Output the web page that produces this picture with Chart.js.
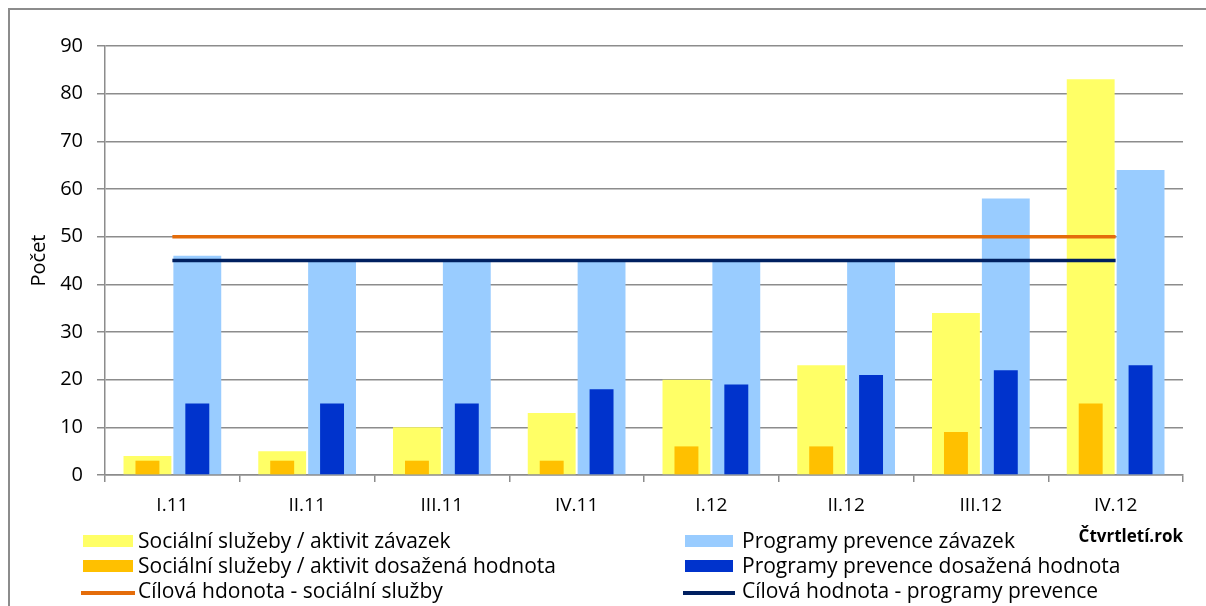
<!DOCTYPE html>
<html lang="cs">

<head>
  <meta charset="UTF-8">
  <title>Počet</title>
  <script src="https://cdn.jsdelivr.net/npm/chart.js"></script>
  <style>
    body { margin: 0; background: #fff; font-family: "Open Sans", sans-serif; }
    #wrap { position: relative; width: 1206px; height: 606px; overflow: hidden; }
    #frame { position: absolute; left: 8px; top: 8px; width: 1220px; height: 640px; border: 2px solid #8c8c8c; box-sizing: border-box; }
    #chart { position: absolute; left: 0; top: 0; }
    .row { position: absolute; height: 24px; line-height: 24px; font-size: 21px; color: #000; white-space: nowrap; }
    .sw { position: absolute; }
  </style>
</head>

<body>
  <div id="wrap">
    <div id="frame"></div>
    <canvas id="chart" width="1206" height="606"></canvas>
    <div id="legend"></div>
  </div>
  <script>
    var categories = ['I.11', 'II.11', 'III.11', 'IV.11', 'I.12', 'II.12', 'III.12', 'IV.12'];
    var socZavazek = [4, 5, 10, 13, 20, 23, 34, 83];
    var socDosazeno = [3, 3, 3, 3, 6, 6, 9, 15];
    var progZavazek = [46, 45, 45, 45, 45, 45, 58, 64];
    var progDosazeno = [15, 15, 15, 18, 19, 21, 22, 23];
    var cilSoc = [50, 50, 50, 50, 50, 50, 50, 50];
    var cilProg = [45, 45, 45, 45, 45, 45, 45, 45];
    var yTicks = [0, 10, 20, 30, 40, 50, 60, 70, 80, 90];

    var names = {
      socZavazek: 'Sociální služeby / aktivit závazek',
      socDosazeno: 'Sociální služeby / aktivit dosažená hodnota',
      cilSoc: 'Cílová hdonota - sociální služby',
      progZavazek: 'Programy prevence závazek',
      progDosazeno: 'Programy prevence dosažená hodnota',
      cilProg: 'Cílová hodnota - programy prevence'
    };

    var colors = {
      socZavazek: '#ffff66',
      socDosazeno: '#ffc000',
      cilSoc: '#e46c0a',
      progZavazek: '#99ccff',
      progDosazeno: '#0033cc',
      cilProg: '#002060'
    };

    var gridColor = '#8c8c8c';
    var font = 'Open Sans';

    // index 0 is drawn last, so lines first, then the narrow bars;
    // stack names put each narrow bar in the middle of its wide bar
    var datasets = [
      {
        type: 'line', label: names.cilSoc, data: cilSoc,
        borderColor: colors.cilSoc, borderWidth: 3.5, pointRadius: 0, fill: false
      },
      {
        type: 'line', label: names.cilProg, data: cilProg,
        borderColor: colors.cilProg, borderWidth: 3.5, pointRadius: 0, fill: false
      },
      {
        label: names.socDosazeno, data: socDosazeno, stack: 'soc',
        backgroundColor: colors.socDosazeno, categoryPercentage: 0.74, barPercentage: 0.48
      },
      {
        label: names.progDosazeno, data: progDosazeno, stack: 'prog',
        backgroundColor: colors.progDosazeno, categoryPercentage: 0.74, barPercentage: 0.48
      },
      {
        label: names.socZavazek, data: socZavazek, stack: 'soc',
        backgroundColor: colors.socZavazek, categoryPercentage: 0.74, barPercentage: 0.96
      },
      {
        label: names.progZavazek, data: progZavazek, stack: 'prog',
        backgroundColor: colors.progZavazek, categoryPercentage: 0.74, barPercentage: 0.96
      }
    ];

    new Chart(document.getElementById('chart'), {
      type: 'bar',
      data: { labels: categories, datasets: datasets },
      options: {
        responsive: false,
        animation: false,
        devicePixelRatio: 1,
        layout: { padding: { top: 46, right: 23, bottom: 0, left: 0 } },
        plugins: { legend: { display: false }, tooltip: { enabled: false } },
        scales: {
          x: {
            type: 'category',
            offset: true,
            afterFit: function (scale) { scale.height = 131; },
            grid: { offset: true, drawOnChartArea: false, drawTicks: true, tickLength: 7, color: gridColor, lineWidth: 1.5 },
            border: { color: gridColor, width: 1.5 },
            ticks: { color: '#000', font: { family: font, size: 19 }, padding: 12, maxRotation: 0 },
            title: {
              display: true, text: 'Čtvrtletí.rok', align: 'end', color: '#000',
              font: { family: font, size: 17, weight: 'bold' }, padding: { top: 0, bottom: 59 }
            }
          },
          y: {
            min: 0,
            max: 90,
            stacked: false,
            afterFit: function (scale) { scale.width = 105; },
            afterBuildTicks: function (scale) {
              scale.ticks = yTicks.map(function (v) { return { value: v }; });
            },
            grid: { color: gridColor, lineWidth: 1.5, tickLength: 8 },
            border: { color: gridColor, width: 1.5 },
            ticks: { color: '#000', font: { family: font, size: 20 }, padding: 14 },
            title: {
              display: true, text: 'Počet', color: '#000',
              font: { family: font, size: 20 }, padding: { top: 27, bottom: 0 }
            }
          }
        }
      }
    });

    var legendItems = [
      { key: 'socZavazek', kind: 'box', col: 0, row: 0 },
      { key: 'progZavazek', kind: 'box', col: 1, row: 0 },
      { key: 'socDosazeno', kind: 'box', col: 0, row: 1 },
      { key: 'progDosazeno', kind: 'box', col: 1, row: 1 },
      { key: 'cilSoc', kind: 'line', col: 0, row: 2 },
      { key: 'cilProg', kind: 'line', col: 1, row: 2 }
    ];
    var cols = [
      { swLeft: 83, swWidth: 50, textLeft: 138 },
      { swLeft: 685, swWidth: 48, textLeft: 742 }
    ];
    var rowTops = [528, 553, 578];

    var legend = document.getElementById('legend');
    legendItems.forEach(function (item) {
      var c = cols[item.col];
      var top = rowTops[item.row];
      var sw = document.createElement('div');
      sw.className = 'sw';
      sw.style.background = colors[item.key];
      if (item.kind === 'box') {
        sw.style.left = c.swLeft + 'px';
        sw.style.width = c.swWidth + 'px';
        sw.style.top = (top + 7) + 'px';
        sw.style.height = '12px';
      } else {
        sw.style.left = (c.swLeft - 2) + 'px';
        sw.style.width = (c.swWidth + 4) + 'px';
        sw.style.top = (top + 13) + 'px';
        sw.style.height = '3.5px';
      }
      legend.appendChild(sw);
      var t = document.createElement('div');
      t.className = 'row';
      t.style.left = c.textLeft + 'px';
      t.style.top = top + 'px';
      t.textContent = names[item.key];
      legend.appendChild(t);
    });
  </script>
</body>

</html>
